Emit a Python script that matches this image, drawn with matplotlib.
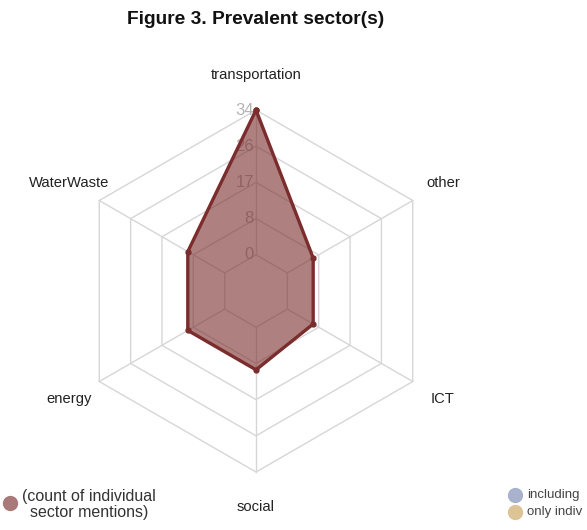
import numpy as np
import matplotlib
matplotlib.use("Agg")
import matplotlib.pyplot as plt
from matplotlib.lines import Line2D

categories = ['transportation', 'other', 'ICT', 'social', 'energy', 'WaterWaste']
counts = [34, 7, 7, 10, 10, 10]
tick_values = [0, 8.5, 17, 25.5, 34]
tick_labels = ['0', '8', '17', '26', '34']
title = 'Figure 3. Prevalent sector(s)'
legend_main = '(count of individual\nsector mentions)'
legend_other = ['including', 'only indiv']

plt.rcParams['font.family'] = ['Liberation Sans', 'DejaVu Sans']
fig = plt.figure(figsize=(5.87, 5.30), dpi=100)
ax = fig.add_axes([0.1278, 0.1094, 0.6167, 0.683], projection='polar')
ax.set_theta_zero_location('N')
ax.set_theta_direction(-1)
ax.set_ylim(0, 34)
ax.set_rorigin(-8.5)
ax.axis('off')

n = len(categories)
theta = np.arange(n) * 2 * np.pi / n
closed = np.append(theta, theta[0])
grid_c = '#d6d6d6'
for v in tick_values:
    ax.plot(closed, [v] * (n + 1), color=grid_c, lw=1, zorder=1, clip_on=False)
for t in theta:
    ax.plot([t, t], [0, 34], color=grid_c, lw=1, zorder=1, clip_on=False)

for v, lab in zip(tick_values, tick_labels):
    ax.annotate(lab, (0, v), xytext=(-1.5, 0), textcoords='offset points',
                ha='right', va='center', fontsize=12, color='#b3b3b3', zorder=1.5)

vals = counts + counts[:1]
line_c = '#7b2c2c'
ax.fill(closed, vals, color=line_c, alpha=0.6, lw=0, zorder=2, clip_on=False)
ax.plot(closed, vals, color=line_c, lw=2.4, marker='o', ms=3.5, zorder=3, clip_on=False)

for t, cat in zip(theta, categories):
    ax.text(t, 42.2, cat, ha='center', va='center', fontsize=10.6, color='#222222', clip_on=False)

fig.text(0.436, 0.963, title, ha='center', va='center', fontsize=13.8, weight='bold', color='#111111')

fig.add_artist(Line2D([10 / 587], [1 - 503 / 530], transform=fig.transFigure, marker='o',
                      ms=10, color='#a97878', mec='#a97878', lw=0))
fig.text(89 / 587, 1 - 504.5 / 530, legend_main, ha='center', va='center', fontsize=11.5,
         color='#333333', multialignment='center', linespacing=1.15)

for i, (lab, col) in enumerate(zip(legend_other, ['#a9b2cc', '#dcc496'])):
    y = 1 - (495 + 17 * i) / 530
    fig.add_artist(Line2D([515 / 587], [y], transform=fig.transFigure, marker='o',
                          ms=10, color=col, mec=col, lw=0))
    fig.text(527 / 587, y, lab, ha='left', va='center', fontsize=9.5, color='#444444')

fig.savefig('out.png', dpi=100)
